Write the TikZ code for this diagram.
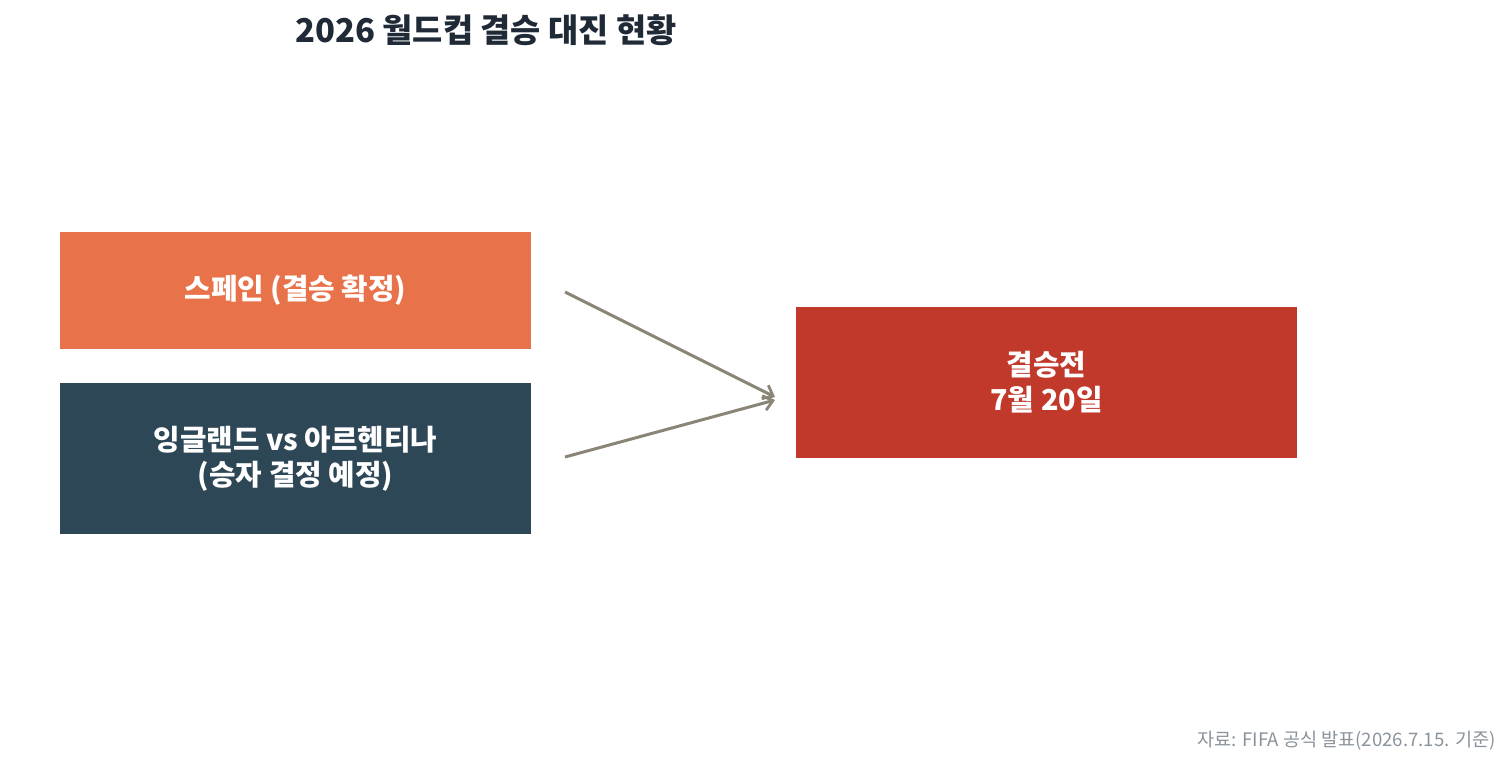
\documentclass[tikz,border=0pt]{standalone}
\usepackage{fontspec}
\setmainfont{Noto Sans CJK KR}
\usetikzlibrary{arrows.meta}
\definecolor{orangeC}{HTML}{E8734A}
\definecolor{darkC}{HTML}{2E4756}
\definecolor{redC}{HTML}{C0392B}
\definecolor{arrowC}{HTML}{8A8577}
\definecolor{titleC}{HTML}{1F2A36}
\definecolor{footC}{HTML}{8A939B}
\begin{document}
\begin{tikzpicture}[x=1pt,y=-1pt,
  boxst/.style={inner sep=0pt,text=white,font=\bfseries\fontsize{28.8}{35}\selectfont,align=center},
  conn/.style={draw=arrowC,line width=3pt,-{Straight Barb[length=9pt,width=15pt,line width=2.8pt]}}]
\useasboundingbox (0,0) rectangle (1512,769);
\fill[orangeC] (60,232) rectangle (531,349);
\fill[darkC] (60,383) rectangle (531,534);
\fill[redC] (796,307) rectangle (1297,458);
\node[boxst] (spain) at (295.5,290.5) {스페인 (결승 확정)};
\node[boxst] (semi) at (295.5,458.5) {잉글랜드 vs 아르헨티나\\(승자 결정 예정)};
\node[boxst] (final) at (1046.5,382.5) {결승전\\7월 20일};
\coordinate (a1) at (565,292);
\coordinate (a2) at (565,457);
\coordinate (t1) at (775,397);
\coordinate (t2) at (775,400);
\draw[conn] (a1) -- (t1);
\draw[conn] (a2) -- (t2);
\node[font=\bfseries\fontsize{32.8}{38}\selectfont,text=titleC] (title) at (486,30) {2026 월드컵 결승 대진 현황};
\node[font=\fontsize{18.6}{22}\selectfont,text=footC,anchor=east,inner sep=0pt] (foot) at (1496,741) {자료: FIFA 공식 발표(2026.7.15. 기준)};
\end{tikzpicture}
\end{document}
